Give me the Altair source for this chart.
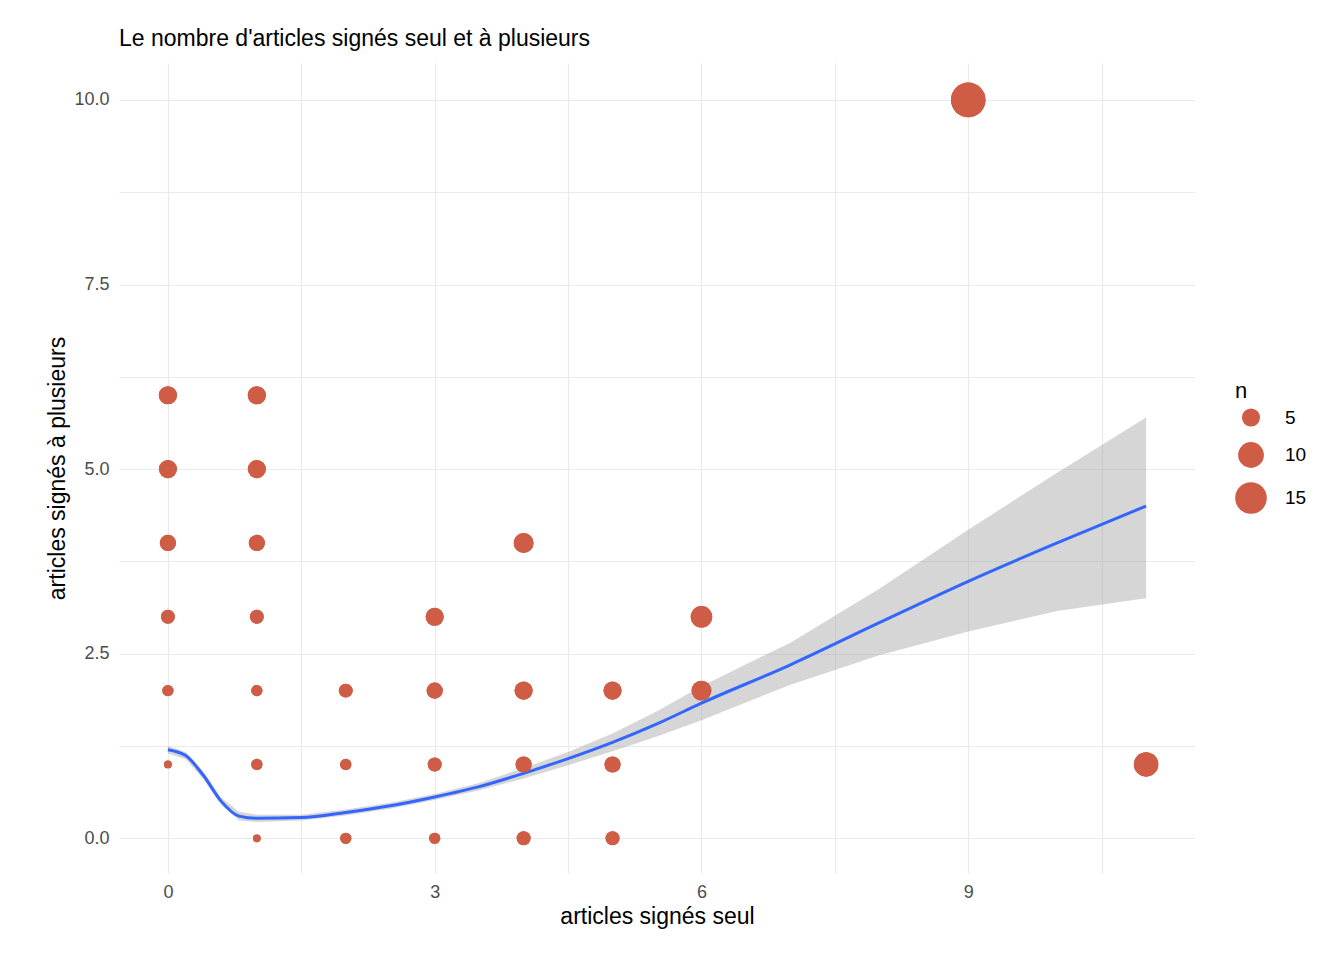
import altair as alt
import pandas as pd

xs = [0, 0, 0, 0, 0, 0, 1, 1, 1, 1, 1, 1, 1, 2, 2, 2, 3, 3, 3, 3, 4, 4, 4, 4, 5, 5, 5, 6, 6, 9, 11]
ys = [6, 5, 4, 3, 2, 1, 6, 5, 4, 3, 2, 1, 0, 2, 1, 0, 3, 2, 1, 0, 4, 2, 1, 0, 2, 1, 0, 3, 2, 10, 1]
ns = [5, 5, 4, 3, 2, 1, 5, 5, 4, 3, 2, 2, 1, 3, 2, 2, 5, 4, 3, 2, 6, 5, 4, 3, 5, 4, 3, 7, 6, 18, 9]

sx = [0, 0.2, 0.4, 0.6, 0.8, 1, 1.5, 2, 2.5, 3, 3.5, 4, 4.5, 5, 5.5, 6, 7, 8, 9, 10, 11]
sy = [1.2, 1.12, 0.85, 0.5, 0.3, 0.27, 0.28, 0.35, 0.44, 0.56, 0.7, 0.88, 1.08, 1.3, 1.55, 1.83, 2.35, 2.92, 3.48, 4.0, 4.5]
slo = [1.15, 1.07, 0.8, 0.45, 0.24, 0.22, 0.24, 0.31, 0.4, 0.52, 0.65, 0.81, 0.99, 1.18, 1.38, 1.6, 2.08, 2.48, 2.8, 3.08, 3.25]
shi = [1.25, 1.17, 0.9, 0.55, 0.36, 0.32, 0.32, 0.39, 0.48, 0.6, 0.75, 0.95, 1.17, 1.42, 1.72, 2.06, 2.65, 3.38, 4.18, 4.95, 5.7]

pts = pd.DataFrame({"x": xs, "y": ys, "n": ns})
smooth = pd.DataFrame({"x": sx, "y": sy, "lo": slo, "hi": shi})

xsc = alt.Scale(domain=[-0.55, 11.55], nice=False, zero=False)
ysc = alt.Scale(domain=[-0.47, 10.5], nice=False, zero=False)

xaxis = alt.Axis(values=[0, 1.5, 3, 4.5, 6, 7.5, 9, 10.5],
                 labelExpr="datum.value % 3 == 0 ? format(datum.value, 'd') : ''",
                 title="articles signés seul")
yaxis = alt.Axis(values=[0, 1.25, 2.5, 3.75, 5, 6.25, 7.5, 8.75, 10],
                 labelExpr="datum.value % 2.5 == 0 ? format(datum.value, '.1f') : ''",
                 title="articles signés à plusieurs")

band = alt.Chart(smooth).mark_area(color="#999999", opacity=0.4).encode(
    x=alt.X("x:Q", scale=xsc, axis=xaxis),
    y=alt.Y("lo:Q", scale=ysc, axis=yaxis),
    y2="hi:Q",
)
line = alt.Chart(smooth).mark_line(color="#3366FF", strokeWidth=3, interpolate="monotone").encode(
    x=alt.X("x:Q", scale=xsc),
    y=alt.Y("y:Q", scale=ysc),
)
dots = alt.Chart(pts).mark_circle(color="#CF5C45", opacity=1).encode(
    x=alt.X("x:Q", scale=xsc),
    y=alt.Y("y:Q", scale=ysc),
    size=alt.Size("n:Q", scale=alt.Scale(domain=[1, 18], range=[60, 1200], zero=False),
                  legend=alt.Legend(values=[5, 10, 15], title="n", orient="none",
                                    legendX=1116, legendY=318)),
)

chart = (dots + band + line + dots).properties(
    width=1076, height=810,
    padding={"left": 38, "top": 20, "right": 5, "bottom": 5},
    title=alt.Title("Le nombre d'articles signés seul et à plusieurs", anchor="start", frame="group",
                    fontSize=23, fontWeight="normal", color="black", offset=12),
).configure(font="Liberation Sans").configure_view(stroke=None).configure_axis(
    domain=False, ticks=False, gridColor="#ebebeb", gridWidth=1.2,
    labelFontSize=18, labelColor="#4d4d4d", titleFontSize=23, titleFontWeight="normal",
    titleColor="black", labelPadding=10,
).configure_legend(
    titleFontSize=22, titleFontWeight="normal", labelFontSize=19, labelColor="black",
    symbolFillColor="#CF5C45", symbolStrokeWidth=0, symbolOpacity=1, rowPadding=14, labelOffset=18,
)

chart.save("out.html", embed_options={"renderer": "svg", "actions": False})
